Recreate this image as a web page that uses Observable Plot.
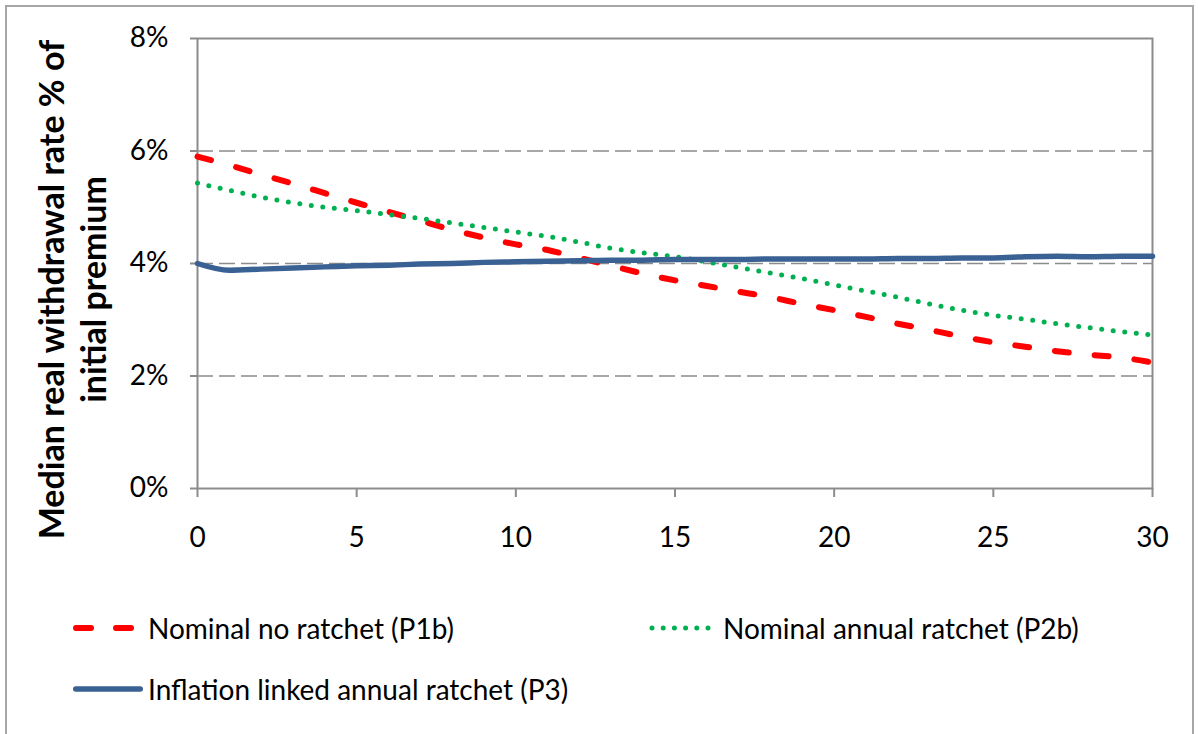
<!DOCTYPE html>
<html>
<head>
<meta charset="utf-8">
<script src="https://cdn.jsdelivr.net/npm/d3@7"></script>
<script src="https://cdn.jsdelivr.net/npm/@observablehq/plot@0.6"></script>
<style>
  html, body { margin: 0; padding: 0; background: #fff; }
  body { width: 1198px; height: 734px; position: relative; overflow: hidden; font-family: Lato, "Open Sans", sans-serif; }
  #frame { position: absolute; left: 5px; top: 5px; width: 1189px; height: 760px; border: 2px solid #a6a6a6; box-sizing: border-box; }
  #chart { position: absolute; left: 0; top: 0; }
  .leg { position: absolute; display: flex; align-items: center; font-size: 28px; color: #000; white-space: nowrap; }
  .leg svg { display: block; }
</style>
</head>
<body>
<div id="frame"></div>
<div id="chart"></div>
<div id="legend"></div>
<script>
const years = d3.range(0, 31);
const seriesNames = ["Nominal no ratchet (P1b)", "Nominal annual ratchet (P2b)", "Inflation linked annual ratchet (P3)"];
const p1b = [5.90,5.75,5.58,5.42,5.25,5.08,4.92,4.76,4.60,4.46,4.34,4.24,4.10,3.96,3.82,3.70,3.60,3.50,3.40,3.28,3.17,3.05,2.93,2.82,2.70,2.60,2.52,2.44,2.38,2.33,2.24];
const p2b = [5.43,5.30,5.18,5.08,5.00,4.94,4.87,4.80,4.72,4.64,4.56,4.48,4.38,4.27,4.19,4.12,4.03,3.93,3.83,3.73,3.62,3.51,3.40,3.28,3.17,3.08,3.01,2.93,2.86,2.79,2.73];
const p3  = [4.00,3.88,3.90,3.92,3.94,3.96,3.97,3.99,4.00,4.02,4.03,4.04,4.05,4.06,4.06,4.07,4.07,4.07,4.08,4.08,4.08,4.08,4.09,4.09,4.10,4.10,4.12,4.13,4.12,4.13,4.13];
const yTicks = [0, 2, 4, 6, 8];
const xTicks = [0, 5, 10, 15, 20, 25, 30];
const gridLevels = [2, 4, 6];
const yTitle = "Median real withdrawal rate % of\ninitial premium";

const styles = [
  {color: "#ff0000", width: 6, dash: "14,26"},
  {color: "#00b050", width: 5, dash: "0,11.6"},
  {color: "#3a6193", width: 5.5, dash: null}
];
const seriesValues = [p1b, p2b, p3];
const rows = seriesValues.map(arr => years.map((t, i) => ({t, v: arr[i]})));

const axisGray = "#8c8c8c";

const chart = Plot.plot({
  width: 1198,
  height: 570,
  marginTop: 38,
  marginBottom: 82,
  marginLeft: 197,
  marginRight: 46,
  style: {fontFamily: "Lato, 'Open Sans', sans-serif", fontSize: "28px", color: "#000", background: "transparent"},
  x: {domain: [0, 30], label: null},
  y: {domain: [0, 8], label: null},
  marks: [
    Plot.ruleY(gridLevels, {stroke: axisGray, strokeWidth: 1.5, strokeDasharray: "16,6"}),
    Plot.frame({stroke: axisGray, strokeWidth: 2}),
    Plot.axisX({ticks: xTicks, tickSize: 9, tickPadding: 30, stroke: axisGray, strokeWidth: 2, fill: "#000", fontSize: 28, label: null}),
    Plot.axisY({ticks: yTicks, tickSize: 7, tickPadding: 22, stroke: axisGray, strokeWidth: 2, fill: "#000", fontSize: 28, tickFormat: d => d + "%", label: null}),
    ...rows.map((r, i) => Plot.line(r, {
      x: "t", y: "v", stroke: styles[i].color, strokeWidth: styles[i].width,
      strokeDasharray: styles[i].dash, strokeLinecap: "round", strokeLinejoin: "round", curve: "monotone-x"
    })),
    Plot.text([yTitle], {frameAnchor: "left", rotate: -90, dx: -126, dy: 26, fontSize: 34, fontWeight: "bold", lineHeight: 1.23, fill: "#000", textAnchor: "middle"})
  ]
});
document.getElementById("chart").appendChild(chart);

// legend
const legendPos = [
  {left: 73, top: 628, sw: 75, x1: 3, x2: 58, dash: "15,25"},
  {left: 647, top: 628, sw: 76, x1: 5, x2: 61, dash: "0,11.2"},
  {left: 73, top: 689, sw: 75, x1: 2.75, x2: 67.25, dash: null}
];
const legend = document.getElementById("legend");
seriesNames.forEach((name, i) => {
  const p = legendPos[i], s = styles[i];
  const div = document.createElement("div");
  div.className = "leg";
  div.style.left = p.left + "px";
  div.style.top = (p.top - 18) + "px";
  div.style.height = "36px";
  const svg = d3.create("svg").attr("width", p.sw).attr("height", 36);
  svg.append("line").attr("x1", p.x1).attr("x2", p.x2).attr("y1", 18).attr("y2", 18)
    .attr("stroke", s.color).attr("stroke-width", s.width).attr("stroke-linecap", "round")
    .attr("stroke-dasharray", p.dash);
  div.appendChild(svg.node());
  const span = document.createElement("span");
  span.textContent = name;
  div.appendChild(span);
  legend.appendChild(div);
});
</script>
</body>
</html>
